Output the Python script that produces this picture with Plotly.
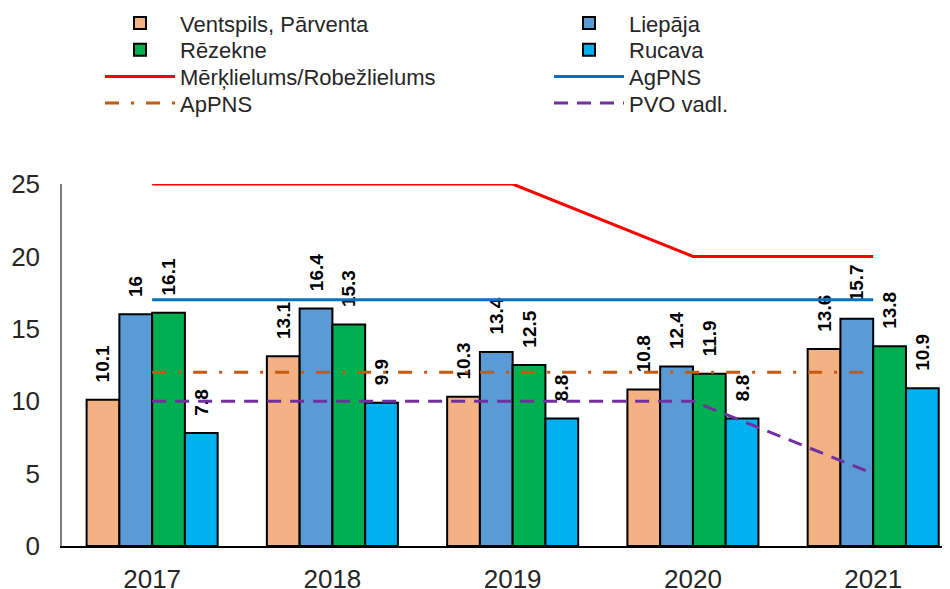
import plotly.graph_objects as go

years = ["2017", "2018", "2019", "2020", "2021"]
ventspils = [10.1, 13.1, 10.3, 10.8, 13.6]
liepaja = [16, 16.4, 13.4, 12.4, 15.7]
rezekne = [16.1, 15.3, 12.5, 11.9, 13.8]
rucava = [7.8, 9.9, 8.8, 8.8, 10.9]
merklielums = [25, 25, 25, 20, 20]
agpns = [17, 17, 17, 17, 17]
appns = [12, 12, 12, 12, 12]
pvo = [10, 10, 10, 10, 5]

FONT = "Liberation Sans, Arial, sans-serif"
PAD = "\u00a0\u00a0\u2009"

fig = go.Figure()

bars = [
    ("Ventspils, Pārventa", ventspils, "#F4B183", "legend"),
    ("Liepāja", liepaja, "#5B9BD5", "legend2"),
    ("Rēzekne", rezekne, "#00B050", "legend3"),
    ("Rucava", rucava, "#00B0F0", "legend4"),
]
for name, vals, color, lg in bars:
    fig.add_trace(go.Bar(
        x=years, y=vals, name=name, legend=lg, showlegend=True,
        marker=dict(color=color, line=dict(color="black", width=2)),
        text=[PAD + (f"{v:g}") for v in vals],
        textposition="outside", textangle=-90, constraintext="none",
        cliponaxis=False,
        textfont=dict(family=FONT, size=19, color="black", weight="bold"),
    ))

lines = [
    ("Mērķlielums/Robežlielums", merklielums, "#FF0000", "solid", "legend5"),
    ("AgPNS", agpns, "#0070C0", "solid", "legend6"),
    ("ApPNS", appns, "#C55A11", "14px,12px,3px,12px", "legend7"),
    ("PVO vadl.", pvo, "#7030A0", "14px,9px", "legend8"),
]
for name, vals, color, dash, lg in lines:
    fig.add_trace(go.Scatter(
        x=years, y=vals, name=name, legend=lg, mode="lines", showlegend=True,
        line=dict(color=color, width=3, dash=dash),
    ))

W, H = 950, 589
row_y = [15.3, 42, 68.7, 95.3]
col_x = [92, 541]
legend_pos = {
    "legend": (0, 0), "legend2": (1, 0),
    "legend3": (0, 1), "legend4": (1, 1),
    "legend5": (0, 2), "legend6": (1, 2),
    "legend7": (0, 3), "legend8": (1, 3),
}
layout_legends = {}
for lg, (c, r) in legend_pos.items():
    layout_legends[lg] = dict(
        visible=True,
        xref="container", yref="container",
        x=col_x[c] / W, y=1 - row_y[r] / H,
        xanchor="left", yanchor="middle",
        bgcolor="rgba(0,0,0,0)", itemwidth=70,
        font=dict(family=FONT, size=22, color="#262626"),
    )

fig.update_layout(
    width=W, height=H,
    showlegend=True,
    margin=dict(l=54, r=10, t=176, b=51, autoexpand=False),
    paper_bgcolor="white", plot_bgcolor="white",
    barmode="group", bargap=0.273, bargroupgap=0,
    font=dict(family=FONT, color="#262626"),
    xaxis=dict(
        type="category", range=[-0.5, 4.415], automargin=False,
        showline=True, linecolor="black", linewidth=2,
        showgrid=False, ticks="", ticklabelstandoff=9, tickangle=0,
        tickfont=dict(family=FONT, size=26, color="#262626"),
    ),
    yaxis=dict(
        range=[0, 25], dtick=5, showgrid=False, zeroline=False, automargin=False,
        showline=True, linecolor="#7F7F7F", linewidth=1.5,
        ticks="", ticklabelstandoff=15,
        tickfont=dict(family=FONT, size=26, color="#262626"),
    ),
    **layout_legends,
)

fig.write_html("out.html")
